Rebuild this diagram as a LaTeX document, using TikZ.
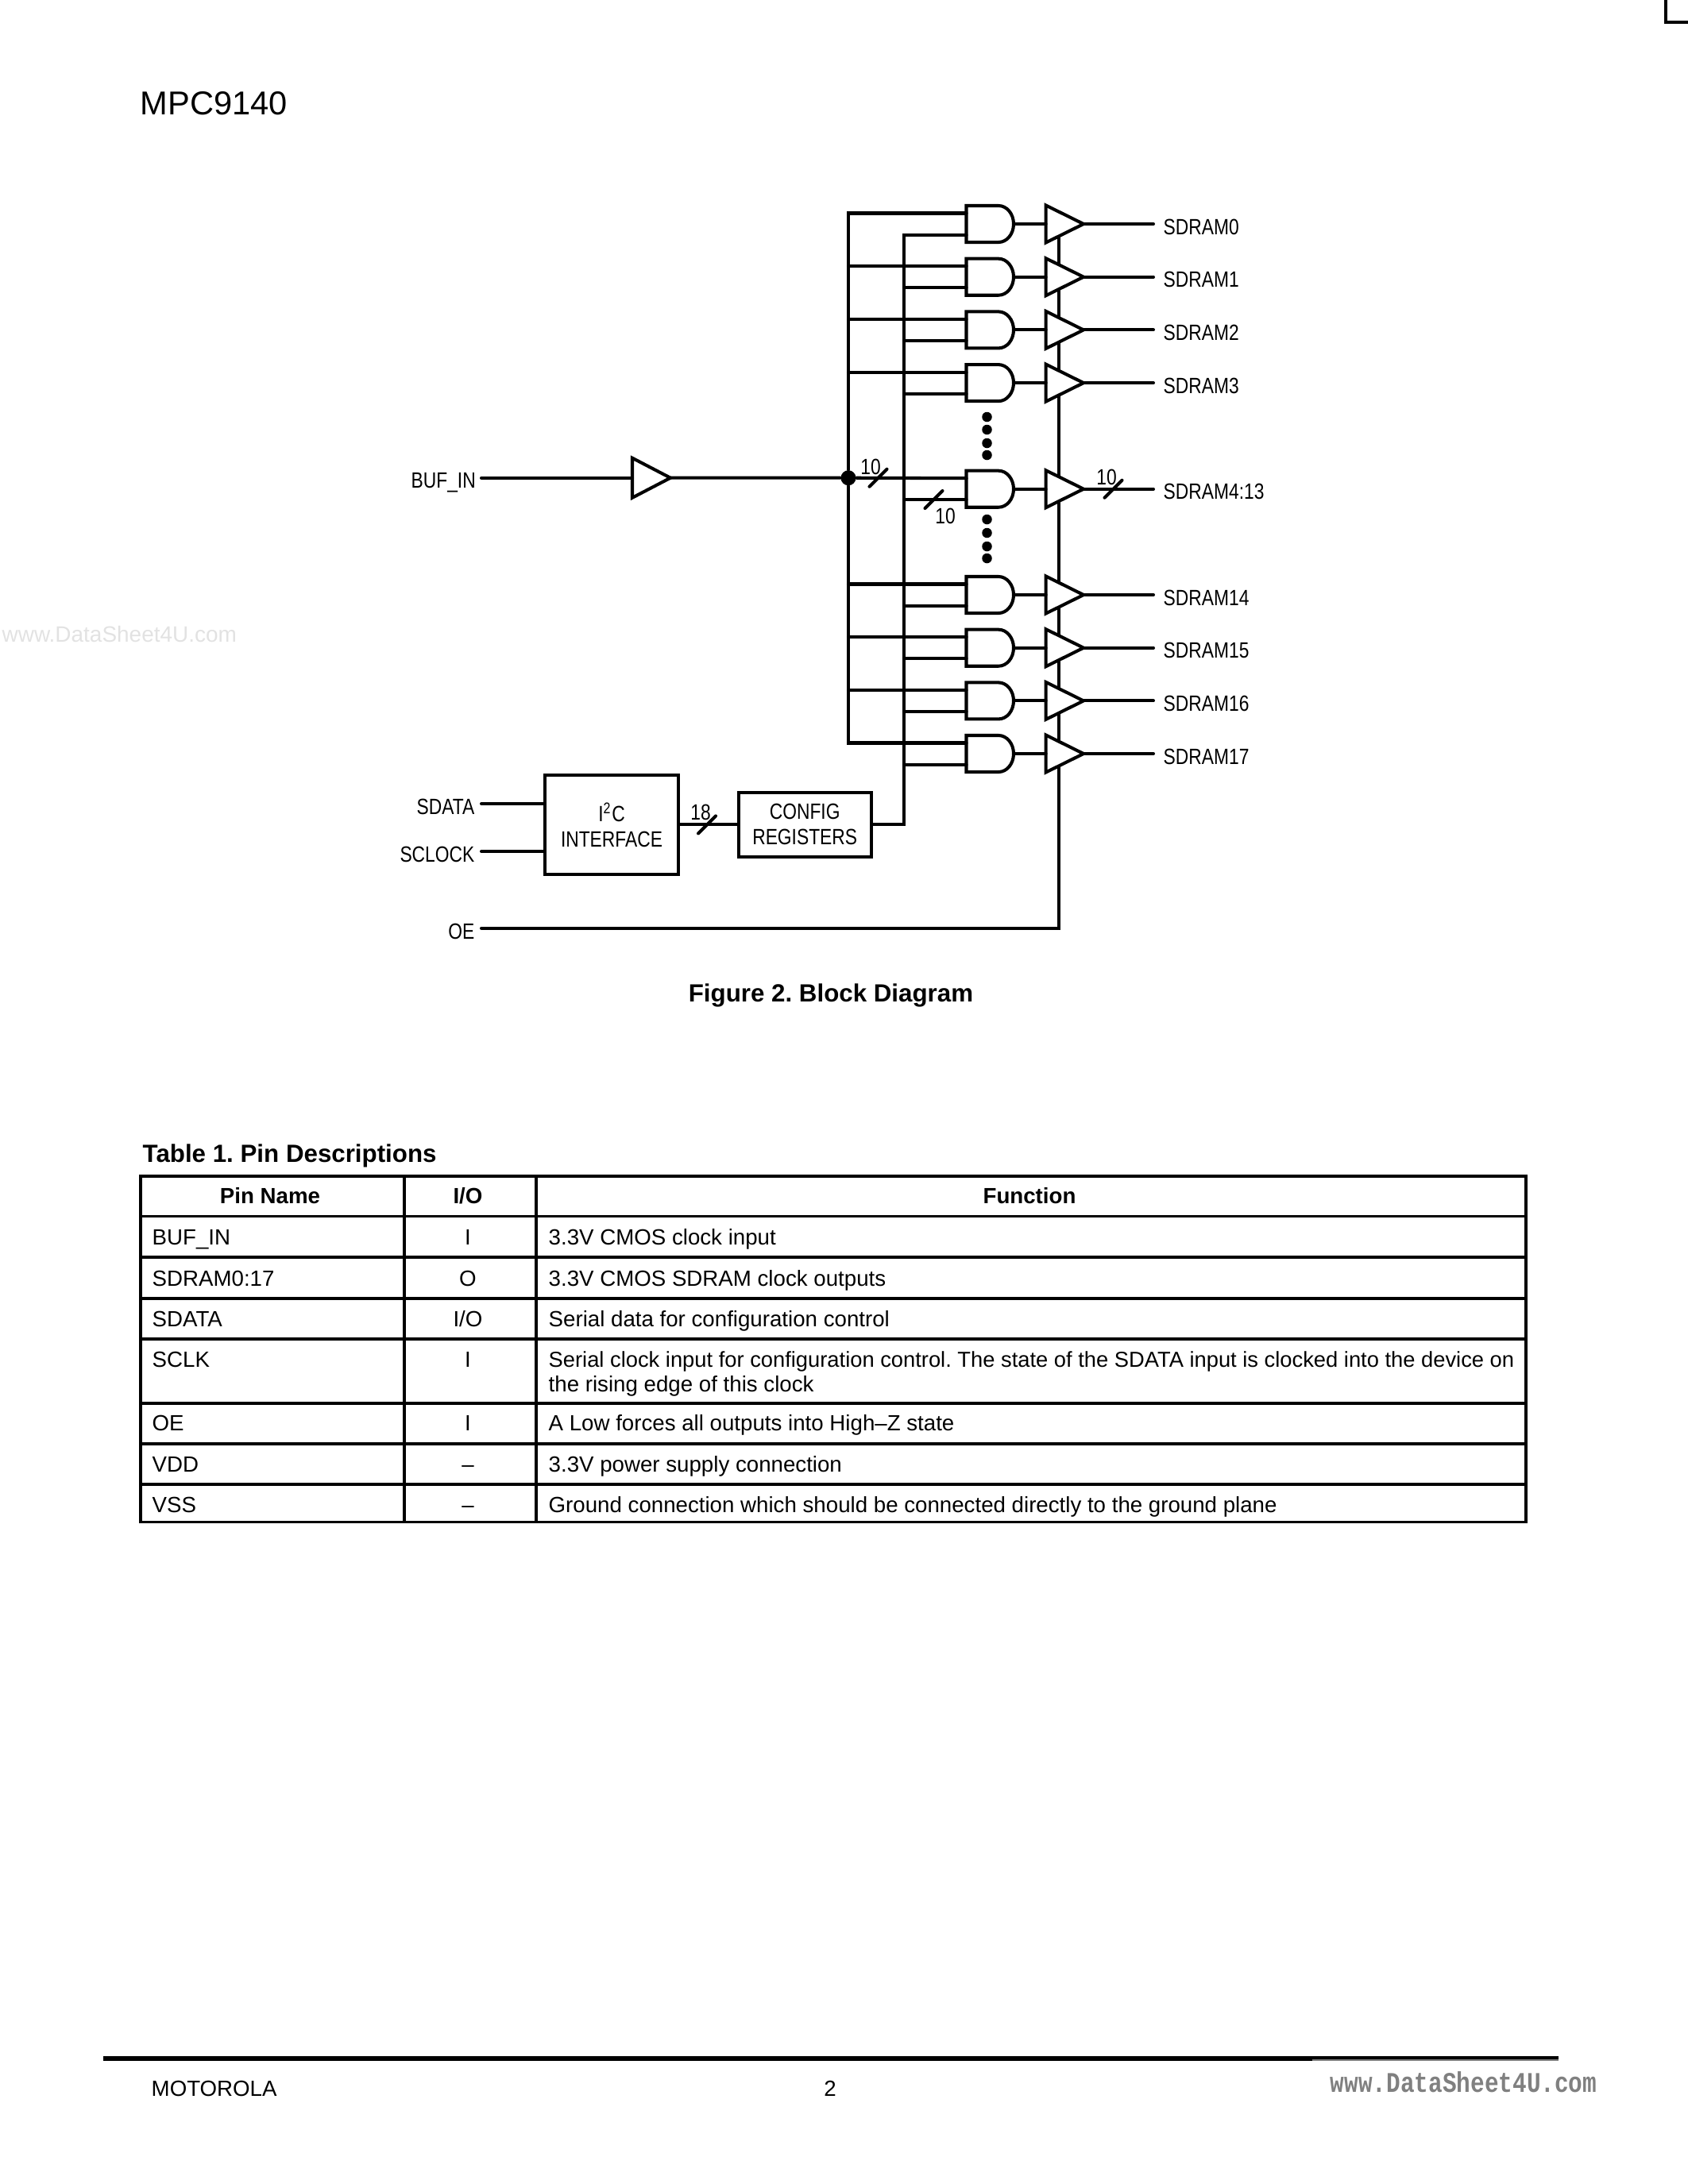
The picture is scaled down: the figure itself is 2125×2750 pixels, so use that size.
\documentclass[tikz,border=0pt]{standalone}
\usepackage{fontspec}
\usepackage{xcolor}
\usepackage{tikz}
\setmainfont{Liberation Sans}
\newfontfamily\narrowfont[FakeStretch=0.82]{Liberation Sans}
\newfontfamily\wmfont[FakeStretch=0.82]{Liberation Mono}
\usetikzlibrary{shapes.geometric, positioning}
\definecolor{wmgray}{HTML}{808080}
\definecolor{wmlight}{HTML}{E2E2E2}
\newcommand{\cellfont}{\fontsize{7.87pt}{9pt}\selectfont}
\newcommand{\headfont}{\fontsize{8.9pt}{10pt}\selectfont\bfseries}
\newcommand{\pinfont}{\narrowfont\fontsize{7.91pt}{9.1pt}\selectfont}
\newcommand{\busmark}[3]{%
  \coordinate (#1) at (#2,#3);
  \draw[wire] ([shift={(-11,11)}]#1) -- ([shift={(11,-11)}]#1);}

\begin{document}
\frenchspacing
\begin{tikzpicture}[
    x=0.01cm, y=-0.01cm,
    wire/.style={line width=1.15pt, line cap=round},
    andgate/.style={rectangle, minimum width=0.595cm, minimum height=0.46cm,
                    inner sep=0pt, outer sep=0pt},
    bufgate/.style={isosceles triangle, isosceles triangle stretches, shape border rotate=0,
                    draw, fill=white, line width=1.15pt, minimum width=0.47cm, minimum height=0.475cm,
                    inner sep=0pt, outer sep=0pt},
    regbox/.style={rectangle, draw, line width=1.15pt, minimum width=1.67cm, align=center,
                   inner sep=0pt, font=\pinfont},
    dotmark/.style={circle, fill=black, inner sep=0pt, minimum size=0.125cm},
    pinlbl/.style={inner sep=0pt, anchor=base, font=\pinfont},
    cell/.style={inner sep=0pt, anchor=base west, font=\cellfont},
    cellc/.style={inner sep=0pt, anchor=base, font=\cellfont},
    headcell/.style={inner sep=0pt, anchor=base, font=\cellfont\bfseries},
    rule/.style={line width=1pt}
  ]
    \useasboundingbox (0,0) rectangle (2125,2750);

    % page furniture
    \node[inner sep=0pt, anchor=base west, font=\fontsize{11.84pt}{13pt}\selectfont] (title) at (176,144) {MPC9140};
    \fill (2095,0) rectangle (2099,30);
    \fill (2095,26) rectangle (2125,30);
    \node[inner sep=0pt, anchor=base west, text=wmlight, font=\fontsize{7.95pt}{9pt}\selectfont] (wmleft) at (2,808) {www.DataSheet4U.com};

    % enable rail goes under the buffers
    \coordinate (oepin) at (606,1168.7);
    \coordinate (entop) at (1333,300);
    \draw[wire] (oepin) -| (entop);

    % gates, one row each
    \foreach \row/\ypos/\lbl in {0/282/SDRAM0, 1/348.7/SDRAM1, 2/415.4/SDRAM2, 3/482.1/SDRAM3,
                                 m/615.7/SDRAM4:13, 14/749/SDRAM14, 15/815.7/SDRAM15,
                                 16/882.4/SDRAM16, 17/949/SDRAM17} {
      \node[andgate] (and\row) at (1246.25,\ypos) {};
      \draw[wire, line join=miter] (and\row.north west) -- ++(0.405cm,0)
        arc[start angle=90, end angle=-90, x radius=0.19cm, y radius=0.23cm] -- (and\row.south west) -- cycle;
      \coordinate (in\row a) at ([yshift=0.135cm]and\row.west);
      \coordinate (in\row b) at ([yshift=-0.135cm]and\row.west);
      \node[bufgate, right=0.405cm of and\row.east] (buf\row) {};
      \coordinate (out\row) at (1452,\ypos);
      \node[pinlbl, anchor=base west] (sd\row) at (1464,\ypos+13) {\lbl};
      \draw[wire] (and\row.east) -- (buf\row.west);
      \draw[wire] (buf\row.east) -- (out\row);
    }

    % ellipsis dots
    \foreach \n/\ypos in {a/525, b/541, c/558, d/573, e/654, f/671, g/688, h/703}
      \node[dotmark] (dot\n) at (1242.5,\ypos) {};

    % clock input
    \coordinate (clkpin) at (606,601.7);
    \node[pinlbl, anchor=base east] (bufinlbl) at (599.5,614) {BUF\_IN};
    \node[bufgate, anchor=west, minimum width=0.5cm, minimum height=0.48cm] (inbuf) at (796,601.7) {};
    \node[circle, fill=black, inner sep=0pt, minimum size=0.19cm] (fork) at (1068,601.7) {};
    \draw[wire] (clkpin) -- (inbuf.west);
    \draw[wire] (inbuf.east) -- (fork) -- (inma);
    \draw[wire] (in17a) -| (fork) |- (in0a);
    \foreach \row in {1,2,3,14,15,16}
      \draw[wire] (in\row a) -- (in\row a -| fork);

    % config side
    \node[regbox, minimum height=1.25cm] (iface) at (770,1038.4) {I\textsuperscript{2}C\\INTERFACE};
    \node[regbox, minimum height=0.81cm, right=0.72cm of iface] (config) {CONFIG\\REGISTERS};
    \coordinate (tap) at (1138,1038.4);
    \draw[wire] (iface) -- (config);
    \draw[wire] (config) -- (tap) |- (in0b);
    \foreach \row in {1,2,3,m,14,15,16,17}
      \draw[wire] (in\row b) -- (in\row b -| tap);
    \coordinate (sdapin) at (606,1012);
    \coordinate (sclpin) at (606,1072);
    \draw[wire] (sdapin) -- (sdapin -| iface.west);
    \draw[wire] (sclpin) -- (sclpin -| iface.west);
    \node[pinlbl, anchor=base east] (sdalbl) at (598,1025) {SDATA};
    \node[pinlbl, anchor=base east] (scllbl) at (598,1085) {SCLOCK};
    \node[pinlbl, anchor=base east] (oelbl) at (598,1182) {OE};

    % bus widths
    \busmark{marka}{1105.5}{601.7}
    \busmark{markb}{1175.5}{629}
    \busmark{markc}{1401.5}{615.7}
    \busmark{markd}{890}{1038.4}
    \node[pinlbl] (cnta) at (1096,597) {10};
    \node[pinlbl] (cntb) at (1190,659) {10};
    \node[pinlbl] (cntc) at (1393,610) {10};
    \node[pinlbl] (cntd) at (882,1032) {18};

    \node[inner sep=0pt, anchor=base, font=\headfont] (figcap) at (1046,1261) {Figure 2. Block Diagram};

    % pin table
    \node[inner sep=0pt, anchor=base west, font=\headfont] (tabcap) at (179,1463) {Table 1. Pin Descriptions};
    \draw[rule] (177,1481) rectangle (1921,1916.7);
    \foreach \ypos in {1531.7,1583,1635,1686,1767,1818,1869}
      \draw[rule] (177,\ypos) -- (1921,\ypos);
    \foreach \xpos in {509,675}
      \draw[rule] (\xpos,1481) -- (\xpos,1916.7);
    \node[headcell] (hpin) at (340,1515.6) {Pin Name};
    \node[headcell] (hio) at (589,1515.6) {I/O};
    \node[headcell] (hfun) at (1296,1515.6) {Function};
    \foreach \n/\ypos/\pin/\dir/\fun in {
        a/1567.7/BUF\_IN/I/3.3V CMOS clock input,
        b/1619/SDRAM0:17/O/3.3V CMOS SDRAM clock outputs,
        c/1670/SDATA/{I/O}/Serial data for configuration control,
        d/1721/SCLK/I/{\fontsize{7.77pt}{9pt}\selectfont Serial clock input for configuration control. The state of the SDATA input is clocked into the device on},
        e/1801.6/OE/I/A Low forces all outputs into High--Z state,
        f/1853.5/VDD/--/3.3V power supply connection,
        g/1904/VSS/--/Ground connection which should be connected directly to the ground plane} {
      \node[cell] (pin\n) at (191,\ypos) {\pin};
      \node[cellc] (dir\n) at (589,\ypos) {\dir};
      \node[cell] (fun\n) at (690,\ypos) {\fun};
    }
    \node[cell] (fund2) at (690,1752) {the rising edge of this clock};

    % footer
    \fill (130,2589) rectangle (1962,2592.5);
    \fill (130,2592.5) rectangle (1652,2595);
    \fill[wmgray] (1652,2592.5) rectangle (1962,2595);
    \node[cell] (maker) at (190,2639) {MOTOROLA};
    \node[cellc] (pageno) at (1045,2639) {2};
    \node[inner sep=0pt, anchor=base east, text=wmgray, font=\wmfont\bfseries\fontsize{10.2pt}{11pt}\selectfont] (wmright) at (2011,2634) {www.DataSheet4U.com};
\end{tikzpicture}
\end{document}
